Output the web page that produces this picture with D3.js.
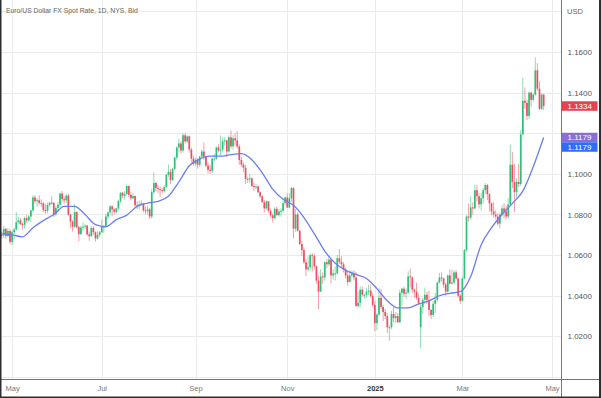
<!DOCTYPE html>
<html>
<head>
<meta charset="utf-8">
<script src="https://cdn.jsdelivr.net/npm/d3@7"></script>
<style>
html, body { margin: 0; padding: 0; background: #fff; }
svg { display: block; font-family: "Liberation Sans", Arial, sans-serif; }
</style>
</head>
<body>
<div id="chart"></div>
<script>
// daily EUR/USD bars, first bar 2024-04-24 (weekdays, no Dec 25 / Jan 1)
var firstDay = "2024-04-24";
var holidays = ["2024-12-25", "2025-01-01"];

var openP = [
1.0700,1.0697,1.0729,1.0694,1.0719,1.0665,1.0713,1.0726,1.0762,1.0771,
1.0753,1.0749,1.0782,1.0771,1.0790,1.0820,1.0884,1.0866,1.0870,1.0857,
1.0855,1.0822,1.0819,1.0847,1.0858,1.0857,1.0801,1.0832,1.0848,1.0903,
1.0876,1.0870,1.0893,1.0800,1.0765,1.0740,1.0812,1.0738,1.0703,1.0736,
1.0740,1.0745,1.0702,1.0693,1.0733,1.0713,1.0682,1.0700,1.0713,1.0740,
1.0740,1.0790,1.0810,1.0840,1.0825,1.0813,1.0830,1.0866,1.0907,1.0892,
1.0900,1.0940,1.0897,1.0880,1.0891,1.0845,1.0844,1.0850,1.0855,1.0820,
1.0817,1.0825,1.0790,1.0910,1.0955,1.0930,1.0925,1.0920,1.0915,1.0935,
1.0995,1.1010,1.0970,1.1025,1.1080,1.1130,1.1150,1.1115,1.1190,1.1160,
1.1185,1.1120,1.1075,1.1050,1.1070,1.1045,1.1085,1.1110,1.1085,1.1040,
1.1020,1.1015,1.1075,1.1075,1.1130,1.1115,1.1120,1.1160,1.1165,1.1110,
1.1180,1.1135,1.1175,1.1165,1.1135,1.1068,1.1045,1.1030,1.0975,1.0975,
1.0978,1.0940,1.0935,1.0938,1.0910,1.0890,1.0860,1.0830,1.0865,1.0818,
1.0796,1.0782,1.0828,1.0797,1.0815,1.0818,1.0856,1.0884,1.0834,1.0880,
1.0930,1.0730,1.0800,1.0720,1.0655,1.0625,1.0565,1.0530,1.0540,1.0600,
1.0595,1.0545,1.0475,1.0420,1.0495,1.0490,1.0565,1.0555,1.0578,1.0500,
1.0510,1.0510,1.0585,1.0567,1.0555,1.0530,1.0500,1.0468,1.0500,1.0510,
1.0490,1.0350,1.0365,1.0430,1.0405,1.0405,1.0420,1.0425,1.0400,1.0355,
1.0265,1.0307,1.0390,1.0345,1.0320,1.0300,1.0245,1.0245,1.0310,1.0290,
1.0300,1.0270,1.0415,1.0435,1.0410,1.0415,1.0495,1.0490,1.0430,1.0420,
1.0390,1.0245,1.0345,1.0380,1.0405,1.0380,1.0330,1.0305,1.0360,1.0380,
1.0465,1.0490,1.0485,1.0455,1.0420,1.0500,1.0460,1.0465,1.0515,1.0485,
1.0400,1.0375,1.0485,1.0625,1.0790,1.0785,1.0835,1.0830,1.0920,1.0890,
1.0850,1.0880,1.0920,1.0945,1.0900,1.0855,1.0815,1.0800,1.0790,1.0755,
1.0800,1.0830,1.0815,1.0790,1.0850,1.1045,1.0960,1.0910,1.0960,1.0950,
1.1195,1.1360,1.1350,1.1285,1.1400,1.1365,1.1390,1.1510,1.1420,1.1320,1.1390
];

var highP = [
1.0716,1.0743,1.0735,1.0733,1.0727,1.0722,1.0735,1.0812,1.0790,1.0784,
1.0760,1.0790,1.0800,1.0797,1.0823,1.0895,1.0895,1.0881,1.0894,1.0875,
1.0861,1.0853,1.0858,1.0862,1.0888,1.0862,1.0840,1.0861,1.0908,1.0915,
1.0888,1.0902,1.0903,1.0803,1.0772,1.0852,1.0815,1.0744,1.0745,1.0761,
1.0752,1.0749,1.0716,1.0743,1.0743,1.0717,1.0718,1.0719,1.0776,1.0747,
1.0803,1.0815,1.0845,1.0845,1.0834,1.0833,1.0873,1.0910,1.0911,1.0915,
1.0948,1.0943,1.0912,1.0905,1.0893,1.0865,1.0868,1.0871,1.0858,1.0840,
1.0845,1.0832,1.0926,1.1008,1.0960,1.0945,1.0938,1.0930,1.0945,1.1000,
1.1046,1.1025,1.1030,1.1085,1.1135,1.1173,1.1160,1.1200,1.1202,1.1190,
1.1189,1.1130,1.1090,1.1080,1.1077,1.1089,1.1120,1.1155,1.1090,1.1055,
1.1045,1.1080,1.1100,1.1135,1.1147,1.1190,1.1180,1.1180,1.1168,1.1190,
1.1214,1.1190,1.1200,1.1210,1.1145,1.1083,1.1055,1.1045,1.0985,1.1000,
1.0983,1.0955,1.0950,1.0942,1.0915,1.0895,1.0872,1.0870,1.0866,1.0830,
1.0805,1.0836,1.0840,1.0827,1.0830,1.0870,1.0888,1.0905,1.0905,1.0937,
1.0935,1.0826,1.0810,1.0723,1.0670,1.0638,1.0580,1.0594,1.0608,1.0610,
1.0608,1.0550,1.0500,1.0530,1.0515,1.0570,1.0580,1.0597,1.0580,1.0530,
1.0545,1.0600,1.0630,1.0595,1.0565,1.0540,1.0520,1.0525,1.0525,1.0525,
1.0518,1.0420,1.0445,1.0445,1.0410,1.0440,1.0455,1.0455,1.0415,1.0375,
1.0315,1.0437,1.0435,1.0355,1.0335,1.0315,1.0255,1.0325,1.0345,1.0320,
1.0315,1.0430,1.0440,1.0445,1.0435,1.0520,1.0533,1.0495,1.0435,1.0465,
1.0410,1.0360,1.0390,1.0440,1.0420,1.0425,1.0335,1.0375,1.0415,1.0470,
1.0512,1.0515,1.0490,1.0465,1.0505,1.0530,1.0530,1.0525,1.0528,1.0490,
1.0410,1.0495,1.0630,1.0797,1.0855,1.0890,1.0860,1.0947,1.0945,1.0905,
1.0905,1.0930,1.0955,1.0950,1.0905,1.0860,1.0860,1.0820,1.0805,1.0810,
1.0845,1.0855,1.0840,1.0880,1.1144,1.1107,1.1050,1.0980,1.1050,1.1215,
1.1473,1.1425,1.1365,1.1405,1.1405,1.1395,1.1573,1.1545,1.1455,1.1395,1.1395
];

var lowP = [
1.0680,1.0683,1.0680,1.0688,1.0655,1.0650,1.0677,1.0722,1.0752,1.0747,
1.0725,1.0730,1.0757,1.0765,1.0764,1.0810,1.0853,1.0838,1.0848,1.0838,
1.0812,1.0805,1.0806,1.0838,1.0850,1.0788,1.0792,1.0811,1.0836,1.0860,
1.0854,1.0858,1.0793,1.0732,1.0716,1.0733,1.0731,1.0668,1.0700,1.0722,
1.0730,1.0694,1.0671,1.0690,1.0699,1.0666,1.0677,1.0690,1.0709,1.0710,
1.0735,1.0778,1.0800,1.0792,1.0801,1.0804,1.0822,1.0856,1.0879,1.0872,
1.0898,1.0887,1.0870,1.0877,1.0834,1.0826,1.0825,1.0845,1.0811,1.0802,
1.0800,1.0778,1.0780,1.0900,1.0915,1.0905,1.0885,1.0905,1.0908,1.0929,
1.0985,1.0950,1.0965,1.1018,1.1070,1.1105,1.1100,1.1104,1.1150,1.1150,
1.1105,1.1055,1.1040,1.1040,1.1026,1.1035,1.1080,1.1070,1.1035,1.1002,
1.1000,1.1005,1.1060,1.1070,1.1105,1.1085,1.1105,1.1140,1.1083,1.1105,
1.1125,1.1120,1.1140,1.1125,1.1045,1.1033,1.1008,1.0950,1.0955,1.0955,
1.0935,1.0915,1.0925,1.0905,1.0880,1.0860,1.0810,1.0825,1.0810,1.0785,
1.0761,1.0775,1.0795,1.0790,1.0790,1.0810,1.0845,1.0833,1.0830,1.0862,
1.0682,1.0715,1.0715,1.0648,1.0595,1.0555,1.0497,1.0520,1.0525,1.0520,
1.0530,1.0460,1.0333,1.0420,1.0460,1.0475,1.0535,1.0545,1.0460,1.0480,
1.0475,1.0505,1.0555,1.0540,1.0515,1.0485,1.0450,1.0465,1.0490,1.0475,
1.0345,1.0343,1.0345,1.0395,1.0385,1.0390,1.0405,1.0390,1.0345,1.0225,
1.0230,1.0300,1.0335,1.0275,1.0285,1.0215,1.0178,1.0235,1.0270,1.0265,
1.0265,1.0265,1.0350,1.0395,1.0385,1.0410,1.0440,1.0415,1.0390,1.0380,
1.0355,1.0141,1.0310,1.0360,1.0360,1.0300,1.0285,1.0295,1.0315,1.0370,
1.0460,1.0470,1.0440,1.0400,1.0415,1.0455,1.0455,1.0455,1.0475,1.0390,
1.0360,1.0375,1.0480,1.0615,1.0765,1.0775,1.0800,1.0825,1.0865,1.0830,
1.0820,1.0855,1.0900,1.0870,1.0815,1.0795,1.0785,1.0775,1.0745,1.0733,
1.0790,1.0780,1.0775,1.0780,1.0845,1.0930,1.0811,1.0880,1.0935,1.0940,
1.1190,1.1320,1.1265,1.1270,1.1330,1.1355,1.1385,1.1410,1.1315,1.1315,1.1315
];

var closeP = [
1.0697,1.0729,1.0694,1.0719,1.0665,1.0713,1.0726,1.0762,1.0771,1.0753,
1.0749,1.0782,1.0771,1.0790,1.0820,1.0884,1.0866,1.0870,1.0857,1.0855,
1.0822,1.0819,1.0847,1.0858,1.0857,1.0801,1.0832,1.0848,1.0903,1.0876,
1.0870,1.0893,1.0800,1.0765,1.0740,1.0812,1.0738,1.0703,1.0736,1.0740,
1.0745,1.0702,1.0693,1.0733,1.0713,1.0682,1.0700,1.0713,1.0740,1.0740,
1.0790,1.0810,1.0840,1.0825,1.0813,1.0830,1.0866,1.0907,1.0892,1.0900,
1.0940,1.0897,1.0880,1.0891,1.0845,1.0844,1.0850,1.0855,1.0820,1.0817,
1.0825,1.0790,1.0910,1.0955,1.0930,1.0925,1.0920,1.0915,1.0935,1.0995,
1.1010,1.0970,1.1025,1.1080,1.1130,1.1150,1.1115,1.1190,1.1160,1.1185,
1.1120,1.1075,1.1050,1.1070,1.1045,1.1085,1.1110,1.1085,1.1040,1.1020,
1.1015,1.1075,1.1075,1.1130,1.1115,1.1120,1.1160,1.1165,1.1110,1.1180,
1.1135,1.1175,1.1165,1.1135,1.1068,1.1045,1.1030,1.0975,1.0975,1.0978,
1.0940,1.0935,1.0938,1.0910,1.0890,1.0860,1.0830,1.0865,1.0818,1.0796,
1.0782,1.0828,1.0797,1.0815,1.0818,1.0856,1.0884,1.0834,1.0880,1.0930,
1.0730,1.0800,1.0720,1.0655,1.0625,1.0565,1.0530,1.0540,1.0600,1.0595,
1.0545,1.0475,1.0420,1.0495,1.0490,1.0565,1.0555,1.0578,1.0500,1.0510,
1.0510,1.0585,1.0567,1.0555,1.0530,1.0500,1.0468,1.0500,1.0510,1.0490,
1.0350,1.0365,1.0430,1.0405,1.0405,1.0420,1.0425,1.0400,1.0355,1.0265,
1.0307,1.0390,1.0345,1.0320,1.0300,1.0245,1.0245,1.0310,1.0290,1.0300,
1.0270,1.0415,1.0435,1.0410,1.0415,1.0495,1.0490,1.0430,1.0420,1.0390,
1.0365,1.0345,1.0380,1.0405,1.0380,1.0330,1.0305,1.0360,1.0380,1.0465,
1.0490,1.0485,1.0455,1.0420,1.0500,1.0460,1.0465,1.0515,1.0485,1.0400,
1.0375,1.0485,1.0625,1.0790,1.0785,1.0835,1.0830,1.0920,1.0890,1.0850,
1.0880,1.0920,1.0945,1.0900,1.0855,1.0815,1.0800,1.0790,1.0755,1.0800,
1.0830,1.0815,1.0790,1.0850,1.1045,1.0960,1.0910,1.0960,1.0950,1.1195,
1.1360,1.1350,1.1285,1.1400,1.1365,1.1390,1.1510,1.1420,1.1320,1.1390,1.1334
];

// moving average, read every 5th bar
var maStep = 5;
var maValues = [
1.0705,1.0700,1.0690,1.0735,1.0770,1.0800,1.0840,1.0840,1.0800,1.0750,
1.0740,1.0775,1.0797,1.0840,1.0856,1.0865,1.0890,1.0960,1.1040,1.1073,
1.1087,1.1087,1.1095,1.1100,1.1070,1.1005,1.0925,1.0875,1.0845,1.0785,
1.0705,1.0620,1.0560,1.0525,1.0505,1.0485,1.0435,1.0375,1.0340,1.0340,
1.0360,1.0375,1.0400,1.0412,1.0420,1.0495,1.0650,1.0735,1.0800,1.0855,
1.0915,1.1035,1.1179
];

var gridPrices = [1.00, 1.02, 1.04, 1.06, 1.08, 1.10, 1.12, 1.14, 1.16, 1.18];
var labelPrices = [1.02, 1.04, 1.06, 1.08, 1.10, 1.12, 1.14, 1.16];
var tickDates = ["2024-05-01", "2024-07-01", "2024-09-02", "2024-11-01", "2025-01-02", "2025-03-03", "2025-05-01"];
var tickLabels = ["May", "Jul", "Sep", "Nov", "2025", "Mar", "May"];
var tagValues = [1.1334, 1.1179, 1.1179];
var tagColors = ["#e8414f", "#8a6ed8", "#2f6df5"];

var W = 601, H = 398;
var plotR = 561.5, plotB = 379.5;
var green = "#2fbf78", red = "#ec4f60";

var svg = d3.select("#chart").append("svg").attr("width", W).attr("height", H);

// trading calendar
var fmt = d3.utcFormat("%Y-%m-%d");
var days = d3.utcDay.range(new Date(firstDay + "T00:00:00Z"), new Date("2025-05-10T00:00:00Z"))
	.filter(function(d) { return d.getUTCDay() != 0 && d.getUTCDay() != 6 && holidays.indexOf(fmt(d)) < 0; })
	.map(fmt);

var x = d3.scaleLinear().domain([-0.8, 268.8]).range([0, 562]);
var y = d3.scaleLinear().domain([1.00, 1.16]).range([377, 52]);

// tag positions (pushed down when they collide)
var tagY = [];
tagValues.forEach(function(v, i) {
	var cy = y(v);
	if (i > 0 && cy - tagY[i - 1] < 9.5) cy = tagY[i - 1] + 9.5;
	tagY.push(cy);
});

// grid
var grid = svg.append("g");
grid.selectAll(".hg").data(gridPrices).enter().append("line")
	.attr("x1", 0).attr("x2", plotR)
	.attr("y1", function(d) { return Math.round(y(d)) + 0.5; })
	.attr("y2", function(d) { return Math.round(y(d)) + 0.5; })
	.attr("stroke", "#ebebeb");
var tickIdx = tickDates.map(function(d) { return days.indexOf(d); });
grid.selectAll(".vg").data(tickIdx).enter().append("line")
	.attr("x1", function(d) { return Math.round(x(d)) + 0.5; })
	.attr("x2", function(d) { return Math.round(x(d)) + 0.5; })
	.attr("y1", 0).attr("y2", plotB)
	.attr("stroke", "#ebebeb");

// candles
var plot = svg.append("g");
var bars = plot.selectAll("g").data(closeP).enter().append("g");
bars.append("line")
	.attr("x1", function(d, i) { return x(i); })
	.attr("x2", function(d, i) { return x(i); })
	.attr("y1", function(d, i) { return y(highP[i]); })
	.attr("y2", function(d, i) { return y(lowP[i]); })
	.attr("stroke", function(d, i) { return d >= openP[i] ? green : red; })
	.attr("stroke-opacity", 0.55)
	.attr("stroke-width", 1);
bars.append("rect")
	.attr("x", function(d, i) { return x(i) - 0.85; })
	.attr("width", 1.7)
	.attr("y", function(d, i) { return y(Math.max(d, openP[i])); })
	.attr("height", function(d, i) { return Math.max(1, Math.abs(y(d) - y(openP[i]))); })
	.attr("fill", function(d, i) { return d >= openP[i] ? green : red; });

// moving average
var maLine = d3.line()
	.x(function(d, i) { return x(i * maStep); })
	.y(function(d) { return y(d); })
	.curve(d3.curveMonotoneX);
plot.append("path").datum(maValues)
	.attr("d", maLine)
	.attr("fill", "none")
	.attr("stroke", "#6a7ef2")
	.attr("stroke-width", 1.3);

// time axis
var xAxis = d3.axisBottom(x).tickValues(tickIdx).tickSize(0).tickPadding(6)
	.tickFormat(function(d, i) { return tickLabels[i]; });
var gx = svg.append("g").attr("transform", "translate(0," + plotB + ")").call(xAxis);
gx.select(".domain").remove();
gx.selectAll("text")
	.attr("font-family", null)
	.style("font-size", "7.5px")
	.style("fill", function(d, i) { return tickLabels[i] == "2025" ? "#333" : "#777"; })
	.style("font-weight", function(d, i) { return tickLabels[i] == "2025" ? "bold" : "normal"; });

// price axis, labels under a tag are hidden like the original
var freeLabels = labelPrices.filter(function(p) {
	return tagY.every(function(t) { return Math.abs(y(p) - t) > 9; });
});
var yAxis = d3.axisRight(y).tickValues(freeLabels).tickSize(0).tickPadding(6)
	.tickFormat(d3.format(".4f"));
var gy = svg.append("g").attr("transform", "translate(" + plotR + ",0)").call(yAxis);
gy.select(".domain").remove();
gy.selectAll("text").attr("font-family", null).style("font-size", "8px").style("fill", "#555");

// last value tags
var tags = svg.append("g").selectAll("g").data(tagValues).enter().append("g");
tags.append("rect")
	.attr("x", plotR).attr("width", 36)
	.attr("y", function(d, i) { return tagY[i] - 4.75; })
	.attr("height", 9.5)
	.attr("fill", function(d, i) { return tagColors[i]; });
tags.append("text")
	.attr("x", plotR + 6)
	.attr("y", function(d, i) { return tagY[i]; })
	.attr("dy", "0.35em")
	.style("font-size", "8px").style("fill", "#fff")
	.text(function(d) { return d3.format(".4f")(d); });

// frame lines
svg.append("line").attr("x1", plotR).attr("x2", plotR).attr("y1", 0).attr("y2", H).attr("stroke", "#777");
svg.append("line").attr("x1", 0).attr("x2", W).attr("y1", plotB).attr("y2", plotB).attr("stroke", "#777");
svg.append("rect").attr("x", 0).attr("y", 0).attr("width", 1.5).attr("height", H).attr("fill", "#2e2e2e");
svg.append("rect").attr("x", W - 2).attr("y", 0).attr("width", 2).attr("height", H).attr("fill", "#2e2e2e");
svg.append("rect").attr("x", 0).attr("y", H - 1.5).attr("width", W).attr("height", 1.5).attr("fill", "#2e2e2e");

// titles
svg.append("text").attr("x", 6).attr("y", 12.5)
	.style("font-size", "6.8px").style("fill", "#666")
	.text("Euro/US Dollar FX Spot Rate, 1D, NYS, Bid");
svg.append("text").attr("x", 567).attr("y", 14)
	.style("font-size", "7.5px").style("fill", "#666")
	.text("USD");
</script>
</body>
</html>
